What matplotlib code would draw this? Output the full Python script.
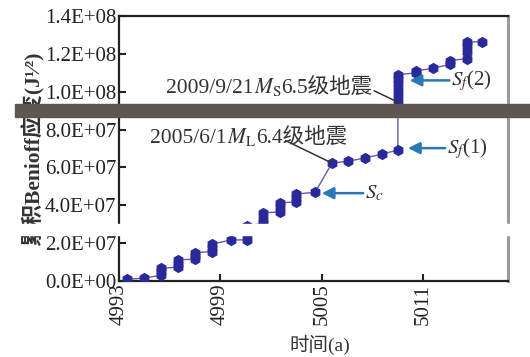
import matplotlib
matplotlib.use("Agg")
import matplotlib.pyplot as plt
from matplotlib.patches import Rectangle
from matplotlib.ticker import FuncFormatter
from matplotlib.offsetbox import TextArea, HPacker, AnnotationBbox

plt.rcParams['font.family'] = ['Liberation Serif', 'Noto Sans CJK SC']
plt.rcParams['mathtext.fontset'] = 'stix'

# ---- data (cumulative Benioff strain, units of 1e7 J^1/2) ----
years = [4993.5, 4994.5,
         4995.5, 4995.5, 4995.5,
         4996.5, 4996.5, 4996.5,
         4997.5, 4997.5, 4997.5,
         4998.5, 4998.5, 4998.5,
         4999.6,
         5000.6, 5000.6, 5000.6,
         5001.5, 5001.5, 5001.5,
         5002.5, 5002.5, 5002.5,
         5003.5, 5003.5, 5003.5,
         5004.6,
         5005.6, 5006.55, 5007.55, 5008.55,
         5009.5, 5009.5, 5009.5, 5009.5, 5009.5, 5009.5, 5009.5,
         5010.6, 5010.6,
         5011.6,
         5012.6, 5012.6,
         5013.6, 5013.6, 5013.6, 5013.6,
         5014.5]
strain = [0.08, 0.16,
          0.3, 0.5, 0.68,
          0.72, 0.92, 1.12,
          1.15, 1.33, 1.5,
          1.55, 1.75, 1.95,
          2.16,
          2.18, 2.5, 2.9,
          3.05, 3.3, 3.6,
          3.65, 3.9, 4.12,
          4.18, 4.4, 4.6,
          4.68,
          6.23, 6.33, 6.5, 6.7,
          6.92, 9.45, 9.8, 10.1, 10.4, 10.7, 10.9,
          11.0, 11.1,
          11.25,
          11.45, 11.65,
          11.75, 12.1, 12.4, 12.62,
          12.65]
scale = 1e7

xticks = [4993, 4999, 5005, 5011]
yticks = [0, 2e7, 4e7, 6e7, 8e7, 1.0e8, 1.2e8, 1.4e8]

quake_labels = [('2009/9/21', r'$M_{\mathrm{S}}$', '6.5级地震'),
                ('2005/6/1', r'$M_{\mathrm{L}}$', '6.4级地震')]
quake_text_pos = [(5008.0, 10.24), (5006.5, 7.62)]
quake_line_from = [(5008.1, 10.05), (5002.85, 7.42)]
quake_line_to = [(5009.5, 9.45), (5005.6, 6.23)]

arrow_labels = [r'$S_f$(2)', r'$S_f$(1)', r'$S_c$']
arrow_tips = [(5010.2, 10.6), (5010.1, 7.02), (5005.0, 4.64)]
arrow_tails = [(5012.55, 10.6), (5012.3, 7.02), (5007.45, 4.64)]

# ---- figure ----
fig = plt.figure(figsize=(5.30, 3.57), dpi=100)
ax = fig.add_axes([0.2245, 0.213, 0.7335, 0.742])

ax.plot(years, [v * scale for v in strain], color='#6a5aa0', lw=1.0,
        marker='h', ms=7, mfc='#29299a', mec='#29299a', zorder=3)

ax.set_xlim(4993, 5016)
ax.set_ylim(0, 1.4e8)
ax.set_xticks(xticks)
ax.set_xticklabels([str(t) for t in xticks], rotation=90, fontsize=15)
ax.set_yticks(yticks)
ax.yaxis.set_major_formatter(FuncFormatter(lambda v, p: '{:.1E}'.format(v)))
for lab in ax.get_yticklabels():
    lab.set_fontsize(15)
ax.tick_params(direction='in', length=5, width=1.5, colors='#222222', pad=2)
for s in ['left', 'bottom', 'top']:
    ax.spines[s].set_linewidth(1.6)
    ax.spines[s].set_color('#222222')
ax.spines['right'].set_linewidth(2.2)
ax.spines['right'].set_color('#9a9a9a')

ax.set_ylabel('累积Benioff应变(J¹⁄²)', fontsize=15.5, fontweight='bold',
              color='#333333', labelpad=0)
fig.text(0.603, 1 - 345 / 357, '时间(a)', fontsize=14, ha='center', va='center',
         color='#333333')

tp_style = dict(fontsize=15.5, color='#333333')
for parts, tp, lf, lt in zip(quake_labels, quake_text_pos, quake_line_from, quake_line_to):
    box = HPacker(children=[TextArea(p, textprops=tp_style) for p in parts],
                  sep=0, pad=0, align='baseline')
    ab = AnnotationBbox(box, (tp[0], tp[1] * scale), xycoords='data',
                        box_alignment=(1.0, 0.5), frameon=False, pad=0)
    ax.add_artist(ab)
    ax.annotate('', xy=(lt[0], lt[1] * scale), xytext=(lf[0], lf[1] * scale),
                arrowprops=dict(arrowstyle='-', color='#333333', lw=1.1, shrinkA=0, shrinkB=0))

for lab, tip, tail in zip(arrow_labels, arrow_tips, arrow_tails):
    ax.annotate('', xy=(tip[0], tip[1] * scale), xytext=(tail[0], tail[1] * scale),
                arrowprops=dict(arrowstyle='-|>,head_length=0.7,head_width=0.35',
                                color='#2a78b8', lw=1.8, shrinkA=0, shrinkB=0))
    ax.text(tail[0] + 0.1, tail[1] * scale, lab, fontsize=15, ha='left', va='center',
            color='#333333')

# scan artefacts of the reference image
fig.patches.append(Rectangle((15 / 530, 1 - 117 / 357), 1 - 15 / 530, 13 / 357,
                             transform=fig.transFigure, color='#5e5652', zorder=5))
fig.patches.append(Rectangle((0, 1 - 235 / 357), 1, 11 / 357,
                             transform=fig.transFigure, color='white', zorder=5))

fig.savefig('out.png', dpi=100)
